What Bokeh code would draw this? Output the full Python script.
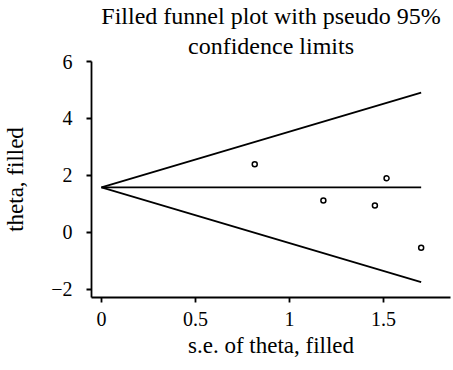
from bokeh.plotting import figure
from bokeh.models import Title, FixedTicker, Range1d
from bokeh.embed import file_html
from bokeh.resources import INLINE

# study points
se = [0.815, 1.18, 1.454, 1.516, 1.70]
theta = [2.39, 1.12, 0.94, 1.90, -0.54]

# pooled estimate and pseudo 95% limits at se = 0 and se max
funnel_se = [0.0, 1.70]
funnel_upper = [1.58, 4.91]
funnel_lower = [1.58, -1.75]
pooled = [1.58, 1.58]

x_ticks = [0, 0.5, 1, 1.5]
y_ticks = [-2, 0, 2, 4, 6]

FONT = "Liberation Serif"

p = figure(width=453, height=370, output_backend="svg", toolbar_location=None,
           x_range=Range1d(-0.053, 1.856), y_range=Range1d(-2.29, 6.0),
           min_border_left=91, min_border_right=3, min_border_bottom=73, min_border_top=0)
p.title = None
p.add_layout(Title(text="confidence limits", align="center", text_font=FONT,
                   text_font_size="24px", text_font_style="normal", text_color="black",
                   standoff=5, offset=0), "above")
p.add_layout(Title(text="Filled funnel plot with pseudo 95%", align="center", text_font=FONT,
                   text_font_size="24px", text_font_style="normal", text_color="black",
                   standoff=0), "above")

p.grid.visible = False
p.outline_line_color = None

p.line(funnel_se, funnel_upper, line_color="black", line_width=1.8)
p.line(funnel_se, funnel_lower, line_color="black", line_width=1.8)
p.line(funnel_se, pooled, line_color="black", line_width=1.8)
p.scatter(se, theta, size=5, fill_color="white", line_color="black", line_width=1.5)

for ax in (p.xaxis[0], p.yaxis[0]):
    ax.axis_line_width = 1.8
    ax.axis_line_color = "black"
    ax.major_tick_line_width = 1.8
    ax.major_tick_line_color = "black"
    ax.major_tick_out = 5
    ax.major_tick_in = 0
    ax.minor_tick_line_color = None
    ax.major_label_text_font = FONT
    ax.major_label_text_font_size = "20px"
    ax.major_label_text_color = "black"
    ax.axis_label_text_font = FONT
    ax.axis_label_text_font_size = "23px"
    ax.axis_label_text_font_style = "normal"
    ax.axis_label_text_color = "black"

p.xaxis.ticker = FixedTicker(ticks=x_ticks)
p.yaxis.ticker = FixedTicker(ticks=y_ticks)
p.xaxis.axis_label = "s.e. of theta, filled"
p.yaxis.axis_label = "theta, filled"
p.xaxis.major_label_standoff = 9
p.yaxis.major_label_standoff = 14
p.xaxis.axis_label_standoff = 4
p.yaxis.axis_label_standoff = 20

open("out.html", "w").write(file_html(p, INLINE))
